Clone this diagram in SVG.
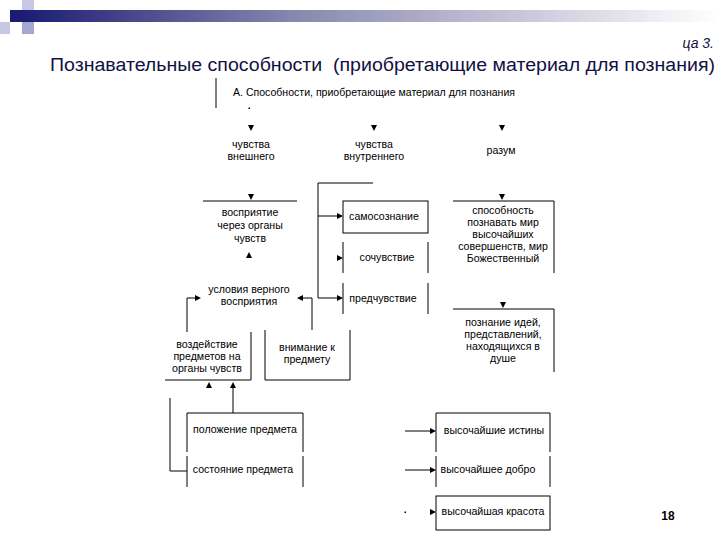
<svg xmlns="http://www.w3.org/2000/svg" width="720" height="540" viewBox="0 0 720 540">
<defs>
<linearGradient id="bar" x1="0" y1="0" x2="1" y2="0">
<stop offset="0" stop-color="#1c1c74"/>
<stop offset="0.4" stop-color="#8a8ab0"/>
<stop offset="1" stop-color="#ffffff"/>
</linearGradient>
<path id="ah" d="M0,0 L-6,-3 L-6,3 Z" fill="#000"/>
</defs>
<style>
.t{font-family:"Liberation Sans",Arial,sans-serif;font-size:10.6px;fill:#000;text-anchor:middle}
.ln{fill:none;stroke:#000;stroke-width:1}
</style>
<rect width="720" height="540" fill="#fff"/>
<g id="decor">
<rect x="22" y="10" width="698" height="12" fill="url(#bar)"/>
<rect x="22" y="0" width="12" height="10" fill="#c8c8e6"/>
<rect x="10" y="10" width="12" height="12" fill="#1c1c74"/>
<rect x="0" y="22" width="10" height="12" fill="#c8c8e6"/>
<rect x="22" y="22" width="12" height="12" fill="#a6a6d2"/>
</g>
<text x="714" y="48" font-family="Liberation Sans,Arial,sans-serif" font-size="14" font-style="italic" fill="#111144" text-anchor="end">ца 3.</text>
<text x="50" y="71" font-family="Liberation Sans,Arial,sans-serif" font-size="18" fill="#111144" textLength="665" lengthAdjust="spacingAndGlyphs" xml:space="preserve">Познавательные способности  (приобретающие материал для познания)</text>
<g id="header">
<path class="ln" d="M216,78 V108"/>
<text class="t" x="233" y="96" style="text-anchor:start" textLength="282" lengthAdjust="spacingAndGlyphs">А. Способности, приобретающие материал для познания</text>
<rect x="248.5" y="107.5" width="1.5" height="1.5" fill="#000"/>
</g>
<g id="n-vneshnego"><text class="t" x="251" y="148">чувства</text><text class="t" x="251" y="160">внешнего</text></g>
<g id="n-vnutrennego"><text class="t" x="374" y="148">чувства</text><text class="t" x="374" y="160">внутреннего</text></g>
<g id="n-razum"><text class="t" x="501" y="154">разум</text></g>
<g id="n-vospriyatie">
<path class="ln" d="M203,201 H297"/>
<text class="t" x="250" y="216">восприятие</text><text class="t" x="250" y="229">через органы</text><text class="t" x="250" y="242">чувств</text>
</g>
<g id="n-usloviya"><text class="t" x="249" y="293">условия верного</text><text class="t" x="249" y="305">восприятия</text></g>
<g id="n-samosoznanie"><rect class="ln" x="343" y="201" width="85" height="32"/><text class="t" x="384" y="220">самосознание</text></g>
<g id="n-sochuvstvie"><path class="ln" d="M343,242 V273 M428,242 V273"/><text class="t" x="387" y="261">сочувствие</text></g>
<g id="n-predchuvstvie"><path class="ln" d="M343,283 V314 M428,283 V314"/><text class="t" x="383" y="302">предчувствие</text></g>
<g id="n-sposobnost">
<path class="ln" d="M453,201 H554 V273"/>
<text class="t" x="503" y="214">способность</text><text class="t" x="503" y="226">познавать мир</text><text class="t" x="503" y="238">высочайших</text><text class="t" x="503" y="250">совершенств, мир</text><text class="t" x="503" y="262">Божественный</text>
</g>
<g id="n-poznanie">
<path class="ln" d="M453,309 H554 V372"/>
<text class="t" x="503" y="326">познание идей,</text><text class="t" x="503" y="338">представлений,</text><text class="t" x="503" y="350">находящихся в</text><text class="t" x="503" y="362">душе</text>
</g>
<g id="n-vozdeystvie">
<path class="ln" d="M251,332 V380 H165"/>
<text class="t" x="207" y="348">воздействие</text><text class="t" x="207" y="360">предметов на</text><text class="t" x="207" y="372">органы чувств</text>
</g>
<g id="n-vnimanie">
<path class="ln" d="M265,330 V380 H350 V330"/>
<text class="t" x="307" y="351">внимание к</text><text class="t" x="307" y="363">предмету</text>
</g>
<g id="n-polozhenie"><path class="ln" d="M187,452 V413 H303 V452"/><text class="t" x="245" y="433">положение предмета</text></g>
<g id="n-sostoyanie"><path class="ln" d="M187,456 V487 M303,456 V487"/><text class="t" x="243" y="473">состояние предмета</text></g>
<g id="n-istiny"><path class="ln" d="M436,452 V413 H550 V452"/><text class="t" x="494" y="434">высочайшие истины</text></g>
<g id="n-dobro"><path class="ln" d="M436,456 V487 M550,456 V487"/><text class="t" x="488" y="473">высочайшее добро</text></g>
<g id="n-krasota"><rect class="ln" x="436" y="496" width="114" height="34"/><text class="t" x="493" y="515">высочайшая красота</text></g>
<g id="connectors">
<use href="#ah" transform="translate(251,131) rotate(90)"/>
<use href="#ah" transform="translate(374,131) rotate(90)"/>
<use href="#ah" transform="translate(502,131) rotate(90)"/>
<use href="#ah" transform="translate(251,200) rotate(90)"/>
<use href="#ah" transform="translate(502,200) rotate(90)"/>
<use href="#ah" transform="translate(503,308) rotate(90)"/>
<use href="#ah" transform="translate(249,252) rotate(-90)"/>
<path class="ln" d="M373,183 H318 V298 H341 M318,216 H341"/>
<use href="#ah" transform="translate(343,216)"/>
<use href="#ah" transform="translate(343,258)"/>
<use href="#ah" transform="translate(343,298)"/>
<path class="ln" d="M312,330 V298 H300"/>
<use href="#ah" transform="translate(297,298) rotate(180)"/>
<path class="ln" d="M187,332 V298 H197"/>
<use href="#ah" transform="translate(201,298)"/>
<use href="#ah" transform="translate(209,382) rotate(-90)"/>
<path class="ln" d="M233,413 V385"/>
<use href="#ah" transform="translate(233,382) rotate(-90)"/>
<path class="ln" d="M170,398 V471 H187"/>
<path class="ln" d="M405,431 H433 M405,470 H433"/>
<rect x="404.5" y="511.5" width="1.5" height="1.5" fill="#000"/>
<use href="#ah" transform="translate(436,431)"/>
<use href="#ah" transform="translate(436,470)"/>
<use href="#ah" transform="translate(436,512)"/>
</g>
<text x="668" y="520" font-family="Liberation Sans,Arial,sans-serif" font-size="12" font-weight="bold" fill="#000" text-anchor="middle">18</text>
</svg>
